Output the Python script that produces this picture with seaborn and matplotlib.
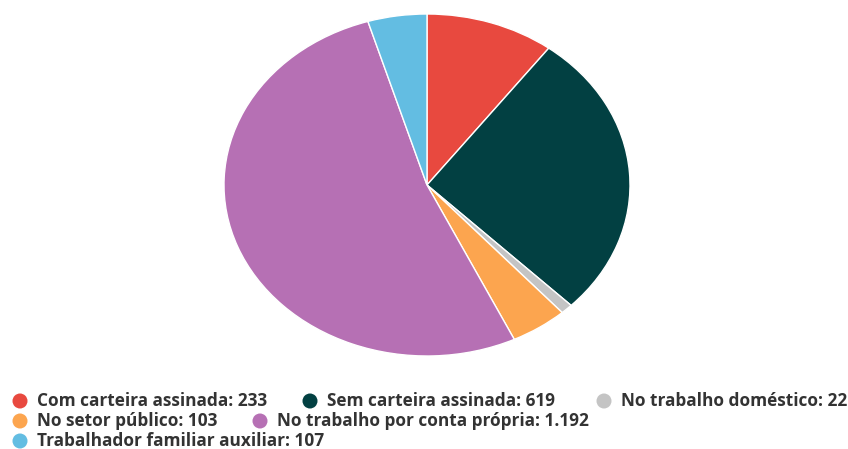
import matplotlib
matplotlib.use("Agg")
import matplotlib.pyplot as plt
from matplotlib.patches import Ellipse
import seaborn as sns

sns.set_theme(style="white")
plt.rcParams['font.family'] = ['Open Sans', 'DejaVu Sans']

# Data
categories = ['Com carteira assinada', 'Sem carteira assinada', 'No trabalho doméstico',
              'No setor público', 'No trabalho por conta própria', 'Trabalhador familiar auxiliar']
values = [233, 619, 22, 103, 1192, 107]
value_labels = ['233', '619', '22', '103', '1.192', '107']
colors = ['#e8493f', '#024042', '#c4c4c4', '#fca54f', '#b670b4', '#63bde2']

W, H = 848, 449
fig = plt.figure(figsize=(W / 100, H / 100), dpi=100)

# Pie (stretched horizontally like the reference)
ax = fig.add_axes([224 / W, (H - 356) / H, 406 / W, 342 / H])
ax.pie(values, colors=colors, startangle=90, counterclock=False, radius=1,
       wedgeprops=dict(edgecolor='white', linewidth=1.0))
ax.set_aspect('auto')
ax.set_xlim(-1, 1)
ax.set_ylim(-1, 1)
ax.axis('off')

# Legend: marker centre position (pixels) of each item, flowing in rows
legend_pos = [(20, 401), (310, 401), (604, 401),
              (20, 421), (260, 421),
              (20, 441)]
for cat, lab, col, (px, py) in zip(categories, value_labels, colors, legend_pos):
    fig.patches.append(Ellipse((px, H - py), 15, 15, transform=None,
                               facecolor=col, edgecolor='none', figure=fig))
    fig.text((px + 17) / W, (H - py) / H, f'{cat}: {lab}', fontsize=12.4,
             fontweight='bold', color='#333333', va='center', ha='left')

fig.savefig('out.png', dpi=100)
